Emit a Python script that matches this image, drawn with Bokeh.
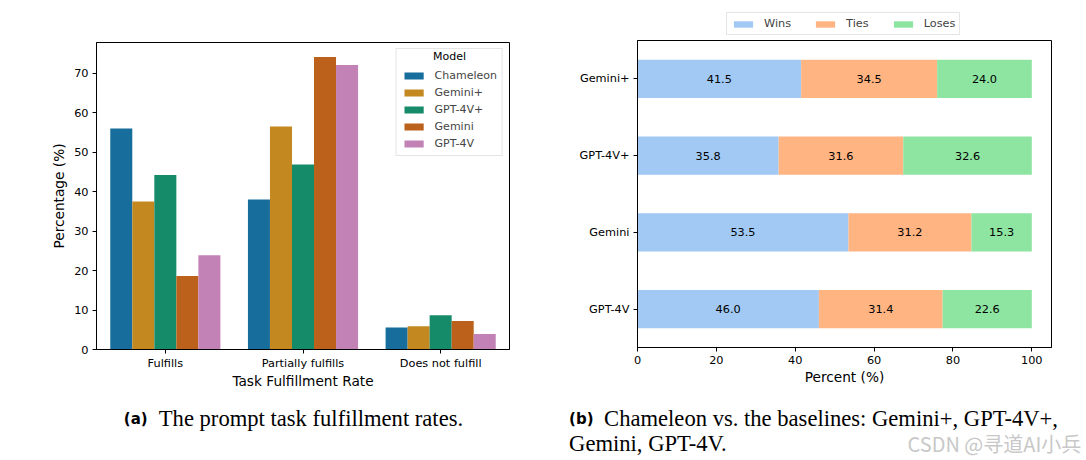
import numpy as np
from bokeh.plotting import figure
from bokeh.models import (ColumnDataSource, FactorRange, Range1d, Legend, LegendItem,
                          FixedTicker, Label)
from bokeh.layouts import row, column
from bokeh.transform import dodge
from bokeh.embed import file_html
from bokeh.resources import INLINE
from bokeh.core.properties import value

# ---------------- data: panel (a) ----------------
categories = ["Fulfills", "Partially fulfills", "Does not fulfill"]
models_a = ["Chameleon", "Gemini+", "GPT-4V+", "Gemini", "GPT-4V"]
chameleon = [56.0, 38.0, 5.6]
gemini_plus = [37.5, 56.5, 5.9]
gpt4v_plus = [44.2, 46.9, 8.7]
gemini = [18.6, 74.1, 7.2]
gpt4v = [23.9, 72.1, 3.9]
y_ticks_a = [0, 10, 20, 30, 40, 50, 60, 70]
colors_a = ["#176d9c", "#c38820", "#168b6a", "#bb611b", "#c282b5"]

# ---------------- data: panel (b) ----------------
baselines = ["Gemini+", "GPT-4V+", "Gemini", "GPT-4V"]
wins = [41.5, 35.8, 53.5, 46.0]
ties = [34.5, 31.6, 31.2, 31.4]
loses = [24.0, 32.6, 15.3, 22.6]
outcomes = ["Wins", "Ties", "Loses"]
x_ticks_b = [0, 20, 40, 60, 80, 100]
colors_b = ["#a1c9f4", "#ffb482", "#8de5a1"]

FONT = "DejaVu Sans"
TICK_FS = "11.3px"
LABEL_FS = "13.7px"


def style_axes(p):
    for ax in list(p.xaxis) + list(p.yaxis):
        ax.major_tick_out = 4
        ax.major_tick_in = 0
        ax.minor_tick_line_color = None
        ax.axis_line_color = "black"
        ax.major_tick_line_color = "black"
        ax.major_label_text_font = FONT
        ax.major_label_text_font_size = TICK_FS
        ax.major_label_text_color = "black"
        ax.axis_label_text_font = FONT
        ax.axis_label_text_font_size = LABEL_FS
        ax.axis_label_text_font_style = "normal"
        ax.axis_label_text_color = "black"
        ax.major_label_standoff = 4
        ax.axis_label_standoff = 4
    p.xgrid.visible = False
    p.ygrid.visible = False
    p.outline_line_color = "black"
    p.outline_line_alpha = 1.0


# ---------------- panel (a) ----------------
pa = figure(width=543, height=395, x_range=FactorRange(*categories),
            y_range=Range1d(0, 77.8), output_backend="svg", toolbar_location=None,
            min_border_left=96, min_border_right=34, min_border_top=42,
            min_border_bottom=46)
series_a = [chameleon, gemini_plus, gpt4v_plus, gemini, gpt4v]
src_a = ColumnDataSource(dict(cat=categories, **{f"m{i}": s for i, s in enumerate(series_a)}))
n = len(models_a)
bw = 0.8 / n
items_a = []
for i, (m, c) in enumerate(zip(models_a, colors_a)):
    off = (i - (n - 1) / 2) * bw
    r = pa.vbar(x=dodge("cat", off, range=pa.x_range), top=f"m{i}", width=bw,
                source=src_a, fill_color=c, line_color=None)
    items_a.append(LegendItem(label=m, renderers=[r]))
style_axes(pa)
pa.yaxis.ticker = FixedTicker(ticks=y_ticks_a)
pa.xaxis.axis_label = "Task Fulfillment Rate"
pa.yaxis.axis_label = "Percentage (%)"
pa.xaxis.major_label_standoff = 3
pa.xaxis.axis_label_standoff = 0

leg_a = Legend(items=items_a, location="top_right", title=" ",
               label_text_font=FONT, label_text_font_size="11px",
               title_text_font=FONT, title_text_font_size="11px",
               glyph_width=24, glyph_height=9, label_standoff=9, label_height=12,
               spacing=4, padding=5, margin=6, title_standoff=2,
               border_line_color="#cccccc", border_line_width=1,
               background_fill_alpha=0.0)
pa.add_layout(leg_a)
pa.add_layout(Label(x=353, y=293, x_units="screen", y_units="screen", text="Model",
                    text_align="center", text_baseline="middle", level="overlay",
                    text_font=FONT, text_font_size="11px", text_color="black"))

# ---------------- panel (b): legend strip ----------------
pleg = figure(width=543, height=39, x_range=Range1d(0, 105),
              y_range=FactorRange(*reversed(baselines)),
              output_backend="svg", toolbar_location=None, min_border=0,
              x_axis_location=None, y_axis_location=None)
pleg.xgrid.visible = False
pleg.ygrid.visible = False
pleg.outline_line_color = None
src_leg = ColumnDataSource(dict(name=baselines, Wins=wins, Ties=ties, Loses=loses))
proxies = pleg.hbar_stack(outcomes, y="name", height=0.5, fill_color=colors_b,
                          line_color=None, source=src_leg)
for r in proxies:
    r.visible = False
leg_b = Legend(items=[LegendItem(label=o, renderers=[r]) for o, r in zip(outcomes, proxies)],
               orientation="horizontal", location=(89, 4),
               label_text_font=FONT, label_text_font_size="11.3px",
               glyph_width=24, glyph_height=8, label_standoff=9, label_height=10,
               spacing=22, padding=4, margin=0,
               border_line_color="#cccccc", border_line_width=1,
               background_fill_alpha=1.0, inactive_fill_alpha=0.0)
pleg.add_layout(leg_b)

# ---------------- panel (b) ----------------
pb = figure(width=543, height=356, y_range=FactorRange(*reversed(baselines)),
            x_range=Range1d(0, 105), output_backend="svg", toolbar_location=None,
            min_border_left=94, min_border_right=35, min_border_top=1,
            min_border_bottom=48)
src_b = ColumnDataSource(dict(name=baselines, Wins=wins, Ties=ties, Loses=loses))
rs = pb.hbar_stack(outcomes, y="name", height=0.5, fill_color=colors_b,
                   line_color=None, source=src_b)
vals = np.vstack([wins, ties, loses])
centers = np.cumsum(vals, axis=0) - vals / 2
txt_src = ColumnDataSource(dict(x=centers.ravel(), y=baselines * 3,
                                t=[f"{v:.1f}" for v in vals.ravel()]))
pb.text(x="x", y="y", text="t", source=txt_src, text_align="center",
        text_baseline="middle", text_font=value(FONT), text_font_size="11.3px",
        text_color="black")
style_axes(pb)
pb.xaxis.ticker = FixedTicker(ticks=x_ticks_b)
pb.xaxis.axis_label = "Percent (%)"
pb.xaxis.axis_label_standoff = 2

# ---------------- captions ----------------
pc = figure(width=1086, height=65, x_range=Range1d(0, 1086), y_range=Range1d(460, 395),
            output_backend="svg", toolbar_location=None, min_border=0,
            x_axis_location=None, y_axis_location=None)
pc.xgrid.visible = False
pc.ygrid.visible = False
pc.outline_line_color = None
pc.text(x=[123.3, 568.6], y=[418, 418], text=["(a)", "(b)"],
        text_font=value("DejaVu Sans"), text_font_style="bold",
        text_font_size="15px", text_baseline="middle", text_color="black")
pc.text(x=[158.3, 603.6, 568.6], y=[417.5, 417.5, 443],
        text=["The prompt task fulfillment rates.",
              "Chameleon vs. the baselines: Gemini+, GPT-4V+,",
              "Gemini, GPT-4V."],
        text_font=value("Liberation Serif"), text_font_size="22.6px",
        text_baseline="middle", text_color="black")
pc.text(x=[907], y=[443], text=["CSDN @寻道AI小兵"],
        text_font=value("Noto Sans CJK SC"), text_font_size="20px",
        text_baseline="middle", text_color="#c8c8c8")

layout = column(row(pa, column(pleg, pb)), pc)
open("out.html", "w").write(file_html(layout, INLINE))
